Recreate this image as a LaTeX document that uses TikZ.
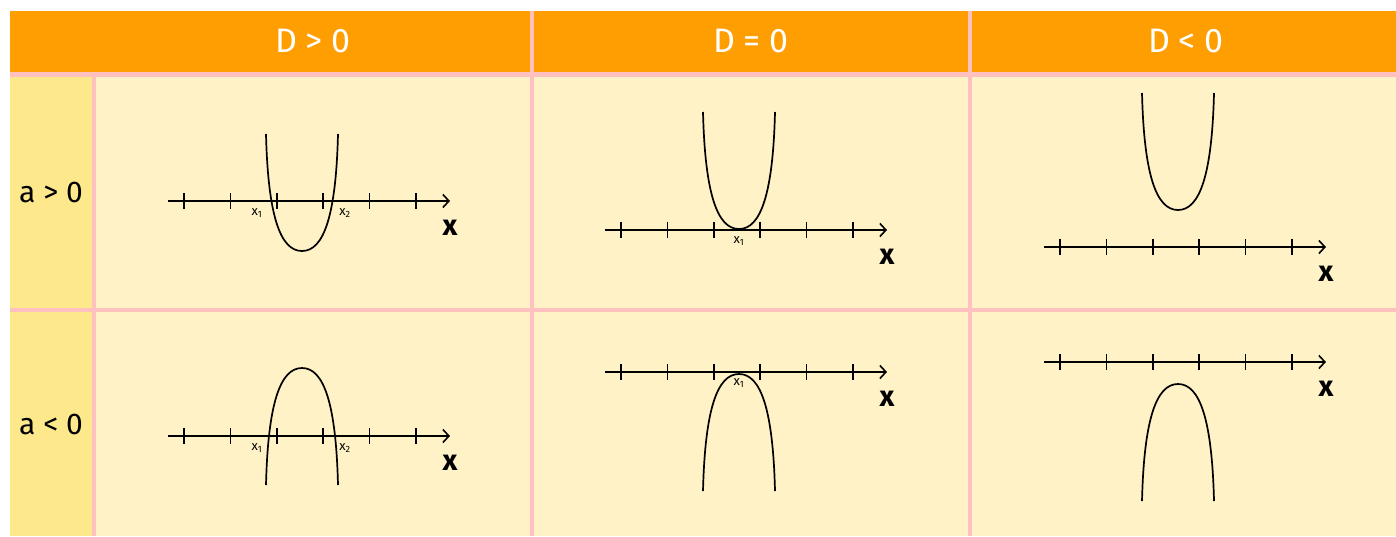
\documentclass[tikz,border=0pt]{standalone}
\usepackage{fontspec}
\setmainfont{Fira Sans}
\usetikzlibrary{arrows.meta,positioning}
\definecolor{hdrorange}{RGB}{255,158,0}
\definecolor{gridpink}{RGB}{255,192,192}
\definecolor{sideyellow}{RGB}{254,232,140}
\definecolor{cellyellow}{RGB}{255,242,198}

\begin{document}
\begin{tikzpicture}[x=1pt,y=-1pt,
  hdr/.style={font=\fontsize{34}{34}\selectfont, text=white},
  side/.style={font=\fontsize{30}{30}\selectfont},
  axisarr/.style={line width=1.6pt, -{Straight Barb[length=6pt,width=13pt,line width=1.6pt]}},
  tickmark/.style={line width=1.5pt},
  curve/.style={line width=1.7pt},
  xlab/.style={font=\bfseries\fontsize{29}{29}\selectfont, inner sep=0pt},
  root/.style={font=\fontsize{13}{13}\selectfont, inner sep=0pt}
]
\useasboundingbox (0,0) rectangle (1396,536);
% grid and cells
\fill[gridpink] (10,11) rectangle (1396,536);
\fill[hdrorange] (10,11) rectangle (530,72);
\fill[hdrorange] (534,11) rectangle (968,72);
\fill[hdrorange] (972,11) rectangle (1396,72);
\fill[sideyellow] (10,77) rectangle (92,308);
\fill[sideyellow] (10,312) rectangle (92,536);
\foreach \xa/\xb in {96/530,534/968,972/1396} {
  \fill[cellyellow] (\xa,77) rectangle (\xb,308);
  \fill[cellyellow] (\xa,312) rectangle (\xb,536);
}
% headers
\node[hdr] (dpos) at (313,41) {D > 0};
\node[hdr] (dzero) at (751,41) {D = 0};
\node[hdr] (dneg) at (1186,41) {D < 0};
\node[side] (apos) at (51,192) {a > 0};
\node[side] (aneg) at (51,424) {a < 0};

% a > 0, D > 0
\begin{scope}[shift={(168,201)}]
\coordinate (s11) at (0,0);
\coordinate (e11) at (282,0);
\draw[axisarr] (s11) -- (e11);
\foreach \t in {0,...,5} \draw[tickmark] ({16+46.4*\t},-8) -- ++(0,16);
\draw[curve] (98,-67) .. controls (100,14) and (112,50) .. (134,50)
  .. controls (156,50) and (168,14) .. (170,-67);
\node[root] (r11a) at (89,12) {x\textsubscript{1}};
\node[root] (r11b) at (177,12) {x\textsubscript{2}};
\node[xlab] (x11) at (282,27) {x};
\end{scope}

% a > 0, D = 0
\begin{scope}[shift={(605,230)}]
\coordinate (s12) at (0,0);
\coordinate (e12) at (282,0);
\draw[axisarr] (s12) -- (e12);
\foreach \t in {0,...,5} \draw[tickmark] ({16+46.4*\t},-8) -- ++(0,16);
\draw[curve] (98,-118) .. controls (100,-37) and (112,-1) .. (134,-1)
  .. controls (156,-1) and (168,-37) .. (170,-118);
\node[root] (r12) at (134,11) {x\textsubscript{1}};
\node[xlab] (x12) at (282,27) {x};
\end{scope}

% a > 0, D < 0
\begin{scope}[shift={(1044,247)}]
\coordinate (s13) at (0,0);
\coordinate (e13) at (282,0);
\draw[axisarr] (s13) -- (e13);
\foreach \t in {0,...,5} \draw[tickmark] ({16+46.4*\t},-8) -- ++(0,16);
\draw[curve] (98,-154) .. controls (100,-73) and (112,-37) .. (134,-37)
  .. controls (156,-37) and (168,-73) .. (170,-154);
\node[xlab] (x13) at (282,27) {x};
\end{scope}

% a < 0, D > 0
\begin{scope}[shift={(168,436)}]
\coordinate (s21) at (0,0);
\coordinate (e21) at (282,0);
\draw[axisarr] (s21) -- (e21);
\foreach \t in {0,...,5} \draw[tickmark] ({16+46.4*\t},-8) -- ++(0,16);
\draw[curve] (98,49) .. controls (100,-32) and (112,-68) .. (134,-68)
  .. controls (156,-68) and (168,-32) .. (170,49);
\node[root] (r21a) at (89,12) {x\textsubscript{1}};
\node[root] (r21b) at (177,12) {x\textsubscript{2}};
\node[xlab] (x21) at (282,27) {x};
\end{scope}

% a < 0, D = 0
\begin{scope}[shift={(605,372)}]
\coordinate (s22) at (0,0);
\coordinate (e22) at (282,0);
\draw[axisarr] (s22) -- (e22);
\foreach \t in {0,...,5} \draw[tickmark] ({16+46.4*\t},-8) -- ++(0,16);
\draw[curve] (98,119) .. controls (100,38) and (112,2) .. (134,2)
  .. controls (156,2) and (168,38) .. (170,119);
\node[root] (r22) at (134,11) {x\textsubscript{1}};
\node[xlab] (x22) at (282,27) {x};
\end{scope}

% a < 0, D < 0
\begin{scope}[shift={(1044,362)}]
\coordinate (s23) at (0,0);
\coordinate (e23) at (282,0);
\draw[axisarr] (s23) -- (e23);
\foreach \t in {0,...,5} \draw[tickmark] ({16+46.4*\t},-8) -- ++(0,16);
\draw[curve] (98,139) .. controls (100,58) and (112,22) .. (134,22)
  .. controls (156,22) and (168,58) .. (170,139);
\node[xlab] (x23) at (282,27) {x};
\end{scope}
\end{tikzpicture}
\end{document}
